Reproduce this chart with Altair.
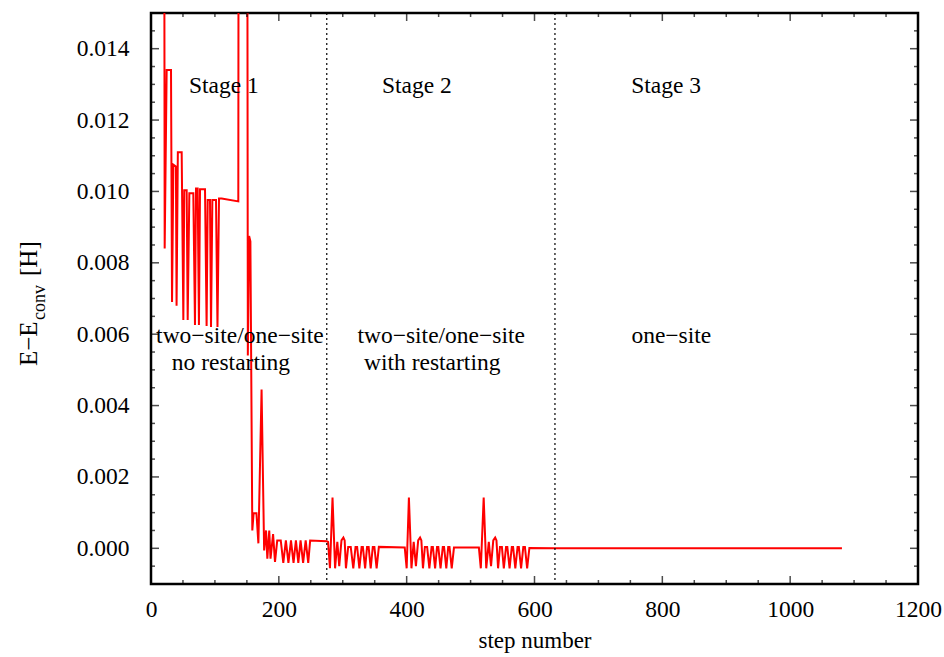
import altair as alt
import pandas as pd

# ---- data ----
step = [20, 21.4, 24.5, 31.3, 32.9, 35, 39, 40, 42, 48, 50.6, 52, 55.8, 57.4, 60, 66.2,
        68.8, 70.4, 73, 75, 76.7, 84.5, 87, 88.7, 92.3, 93.9, 96, 101.7, 104, 106.4, 110.6,
        136.6, 137.5, 150, 151.5, 153.5, 155.5, 158.5, 160.5, 165, 168, 173, 177, 180, 182,
        185, 187, 191, 194, 197.5, 203, 207, 211, 215, 219, 223, 226.7, 230.5, 234, 238, 242,
        246, 249, 275,
        277, 280, 284, 288, 291.5, 294.5, 298, 301, 303, 305, 308.5, 312.5, 316.5, 320, 322.5,
        326, 329.5, 331.5, 335, 338, 340.5, 343.7, 347, 349.5, 353, 356.5, 397,
        400, 403.5, 407.5, 411, 414.5, 418, 421, 423, 425.5, 428.5, 432, 435.5, 439, 441,
        444.5, 447.5, 449.5, 453, 456.5, 458.5, 462, 465, 467, 470.5, 474, 513,
        516, 520.5, 524.5, 528.5, 532, 535.5, 538.5, 540.5, 543, 546, 549, 552, 555.5, 557.5,
        561, 564.5, 566.5, 570, 573.5, 575.5, 579, 582.5, 585, 588.5, 592, 632, 800, 1081]
energy = [0.03, 0.0084, 0.0134, 0.0134, 0.0069, 0.01075, 0.0107, 0.0068, 0.0111, 0.0111,
          0.0064, 0.01003, 0.01003, 0.0064, 0.00995, 0.00995, 0.00626, 0.01008, 0.01008,
          0.00626, 0.01006, 0.01006, 0.00623, 0.00976, 0.00976, 0.0062, 0.00976, 0.00976,
          0.0062, 0.0098, 0.0098, 0.00972, 0.03, 0.03, 0.0054, 0.00875, 0.0086, 0.0005,
          0.00098, 0.00098, 0.00014, 0.00445, -0.00006, 0.0005, -0.00029, 0.0005, -0.00029,
          0.0004, -0.00038, 0.00022, 0.00022, -0.00041, 0.00022, -0.00041, 0.00022, -0.00041,
          0.00022, -0.00041, 0.00022, -0.00041, 0.00022, -0.00041, 0.00022, 0.0002,
          0.00018, -0.00056, 0.00142, -0.00056, 0.00018, -0.0005, 0.00022, 0.0003, 0.00022,
          -0.00056, 0.00004, 0.00004, -0.00056, 0.00004, 0.00004, -0.00056, 0.00004, 0.00004,
          -0.00056, 0.00004, 0.00004, -0.00056, 0.00004, 0.00004, -0.00056, 0.00004, 0.00002,
          -0.00056, 0.00142, -0.00056, 0.00018, -0.0005, 0.00022, 0.0003, 0.00022, -0.00056,
          0.00004, 0.00004, -0.00056, 0.00004, 0.00004, -0.00056, 0.00004, 0.00004, -0.00056,
          0.00004, 0.00004, -0.00056, 0.00004, 0.00004, -0.00056, 0.00002, 0.00002,
          -0.00056, 0.00142, -0.00056, 0.00018, -0.0005, 0.00022, 0.0003, 0.00022, -0.00056,
          0.00004, 0.00004, -0.00056, 0.00004, 0.00004, -0.00056, 0.00004, 0.00004, -0.00056,
          0.00004, 0.00004, -0.00056, 0.00004, 0.00004, -0.00056, 0.00001, 0.0, 0.0, 0.0]

stage_bounds = [275, 632]

label_text = ["Stage 1", "Stage 2", "Stage 3",
              "two\u2212site/one\u2212site", "no restarting",
              "two\u2212site/one\u2212site", "with restarting", "one\u2212site"]
label_x = [114, 416, 806, 139, 125, 454, 440, 814]
label_y = [0.01296, 0.01296, 0.01296, 0.00595, 0.00519, 0.00595, 0.00519, 0.00595]

x_major = [0, 200, 400, 600, 800, 1000, 1200]
x_minor = [50, 100, 150, 250, 300, 350, 450, 500, 550, 650, 700, 750, 850, 900, 950,
           1050, 1100, 1150]
y_major = [0.0, 0.002, 0.004, 0.006, 0.008, 0.010, 0.012, 0.014]
y_minor = [-0.0005, 0.0005, 0.001, 0.0015, 0.0025, 0.003, 0.0035, 0.0045, 0.005, 0.0055,
           0.0065, 0.007, 0.0075, 0.0085, 0.009, 0.0095, 0.0105, 0.011, 0.0115, 0.0125,
           0.013, 0.0135, 0.0145]

W, H = 767, 571
FONT = "Liberation Serif"
FS = 23.5

xs = alt.Scale(domain=[0, 1200], nice=False, zero=False)
ys = alt.Scale(domain=[-0.001, 0.015], nice=False, zero=False)

df = pd.DataFrame({"step": step, "energy": energy, "order": list(range(len(step)))})

line = alt.Chart(df).mark_line(color="#ff0000", strokeWidth=2, clip=True).encode(
    x=alt.X("step:Q", scale=xs,
            axis=alt.Axis(values=x_major, format="d", ticks=False, domain=False, grid=False,
                          labelFont=FONT, labelFontSize=FS, labelColor="black",
                          labelPadding=13, title="step number", titleFont=FONT,
                          titleFontSize=23, titleFontWeight="normal", titleColor="black",
                          titlePadding=9, labelFlush=False)),
    y=alt.Y("energy:Q", scale=ys,
            axis=alt.Axis(values=y_major, format=".3f", ticks=False, domain=False,
                          grid=False, labelFont=FONT, labelFontSize=FS,
                          labelColor="black", labelPadding=22, title=None,
                          labelFlush=False)),
    order="order:Q",
)

sep = alt.Chart(pd.DataFrame({"x": stage_bounds})).mark_rule(
    color="black", strokeWidth=1.2, strokeDash=[2, 3]).encode(x=alt.X("x:Q", scale=xs))

labels = alt.Chart(pd.DataFrame({"t": label_text, "x": label_x, "y": label_y})).mark_text(
    font=FONT, fontSize=FS, color="black", align="center", baseline="middle").encode(
    x=alt.X("x:Q", scale=xs), y=alt.Y("y:Q", scale=ys), text="t:N")


def xticks(vals, length, top):
    d = pd.DataFrame({"v": vals})
    return alt.Chart(d).mark_tick(color="black", thickness=1.5, size=2 * length,
                                  orient="vertical", clip=True).encode(
        x=alt.X("v:Q", scale=xs), y=alt.value(0 if top else H))


def yticks(vals, length, right):
    d = pd.DataFrame({"v": vals})
    return alt.Chart(d).mark_tick(color="black", thickness=1.5, size=2 * length,
                                  orient="horizontal", clip=True).encode(
        y=alt.Y("v:Q", scale=ys), x=alt.value(W if right else 0))


ticks = [xticks(x_major, 8, False), xticks(x_major, 8, True),
         xticks(x_minor, 4, False), xticks(x_minor, 4, True),
         yticks(y_major, 8, False), yticks(y_major, 8, True),
         yticks(y_minor, 4, False), yticks(y_minor, 4, True)]

# y-axis title built from pieces (subscript)
t1 = alt.Chart(pd.DataFrame({"t": ["E\u2212E"]})).mark_text(
    font=FONT, fontSize=25, color="black", angle=270, align="left", baseline="middle").encode(
    x=alt.value(29 - 151), y=alt.value(366 - 13), text="t:N")
t2 = alt.Chart(pd.DataFrame({"t": ["conv"]})).mark_text(
    font=FONT, fontSize=18, color="black", angle=270, align="left", baseline="middle").encode(
    x=alt.value(40 - 151), y=alt.value(320 - 13), text="t:N")
t3 = alt.Chart(pd.DataFrame({"t": ["[H]"]})).mark_text(
    font=FONT, fontSize=25, color="black", angle=270, align="left", baseline="middle").encode(
    x=alt.value(29 - 151), y=alt.value(276 - 13), text="t:N")

chart = alt.layer(line, sep, labels, *ticks, t1, t2, t3).properties(
    width=W, height=H,
    autosize=alt.AutoSizeParams(type="none"),
    padding={"left": 151, "top": 13, "right": 26, "bottom": 73},
    background="white",
).configure_view(stroke="black", strokeWidth=2.5)

chart.save("out.html", embed_options={"renderer": "svg", "actions": False})
